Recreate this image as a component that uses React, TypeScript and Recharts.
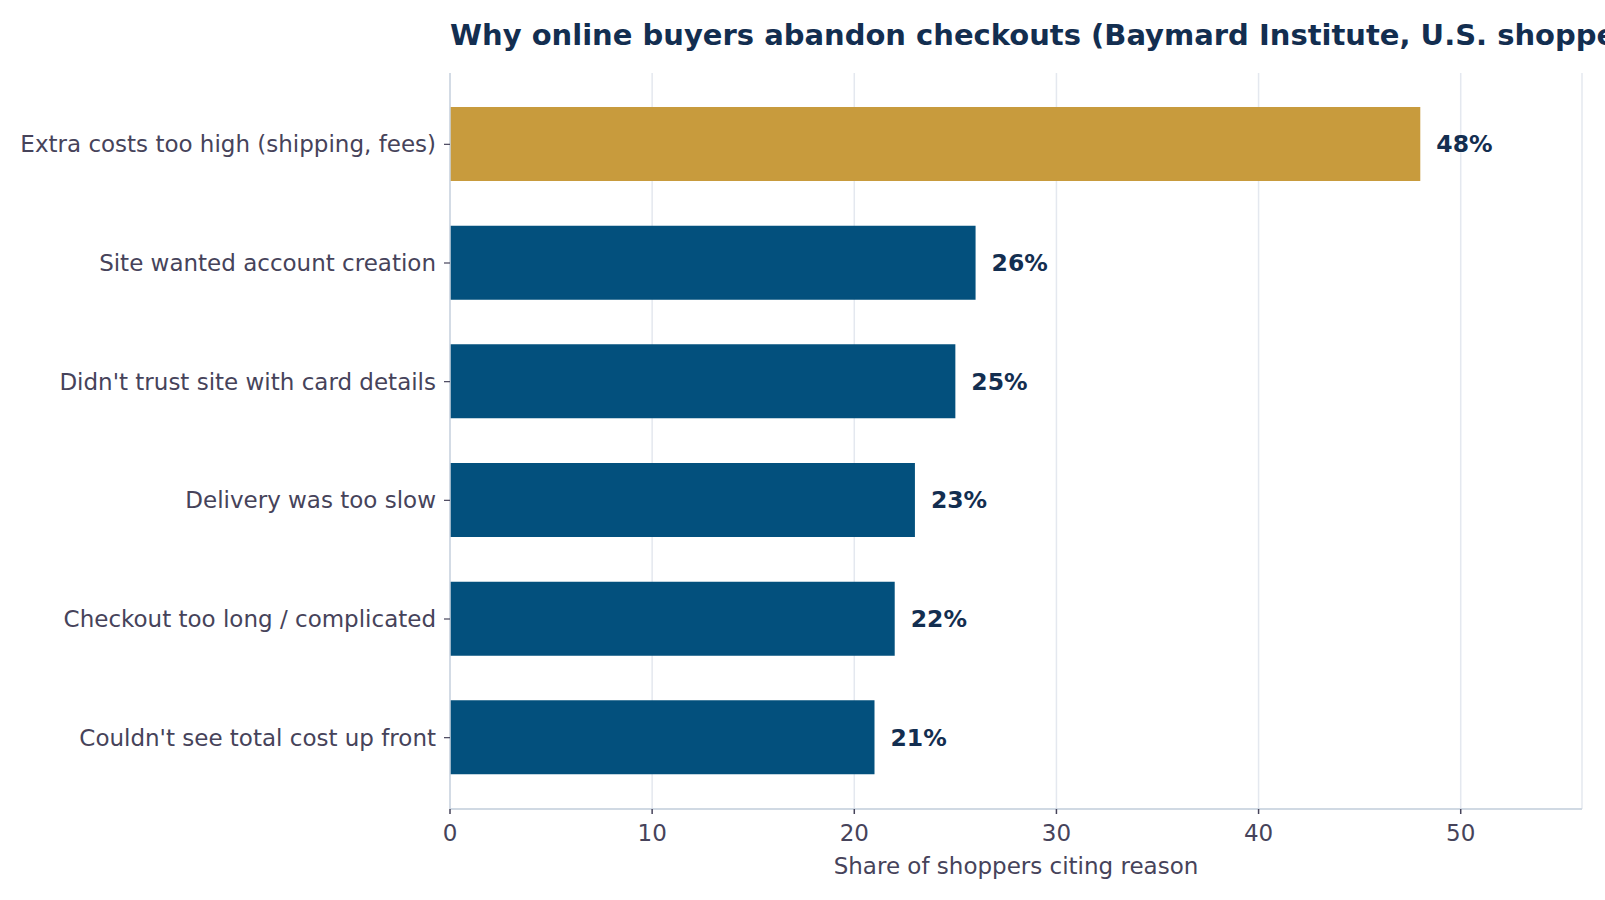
import { BarChart, Bar, XAxis, YAxis, CartesianGrid, Cell, LabelList } from 'recharts'

const reasons = [
  'Extra costs too high (shipping, fees)',
  'Site wanted account creation',
  "Didn't trust site with card details",
  'Delivery was too slow',
  'Checkout too long / complicated',
  "Couldn't see total cost up front",
]
const shares = [48, 26, 25, 23, 22, 21]
const xTicks = [0, 10, 20, 30, 40, 50]

const title = 'Why online buyers abandon checkouts (Baymard Institute, U.S. shoppers)'
const xLabel = 'Share of shoppers citing reason'

const FONT = '"DejaVu Sans", sans-serif'
const GOLD = '#C89B3D'
const NAVY = '#03507D'
const INK = '#132E50'
const GREY = '#46435A'

const data = reasons.map((reason, i) => ({ reason, share: shares[i] }))

export default function App() {
  return (
    <div
      style={{
        position: 'absolute',
        left: 0,
        top: 0,
        width: 1605,
        height: 900,
        overflow: 'hidden',
        background: '#fff',
        fontFamily: FONT,
      }}
    >
      {/* the title runs past the right edge in the original too */}
      <div
        style={{
          position: 'absolute',
          left: 450,
          top: 21,
          fontSize: 29,
          lineHeight: '29px',
          fontWeight: 'bold',
          color: INK,
          whiteSpace: 'nowrap',
        }}
      >
        {title}
      </div>
      <BarChart
        width={1605}
        height={900}
        data={data}
        layout="vertical"
        margin={{ top: 73, right: 23, bottom: 21, left: 0 }}
        style={{ fontFamily: FONT }}
      >
        <CartesianGrid horizontal={false} stroke="#E4E8EF" strokeWidth={1.5} />
        <XAxis
          type="number"
          domain={[0, 56]}
          ticks={xTicks}
          height={70}
          tick={{ fontSize: 23, fill: GREY }}
          tickSize={5}
          tickMargin={11}
          tickLine={{ stroke: GREY, strokeWidth: 1.5 }}
          axisLine={{ stroke: '#D0D9E3', strokeWidth: 2 }}
          label={{ value: xLabel, position: 'insideBottom', offset: 5, fontSize: 23, fill: GREY }}
        />
        <YAxis
          type="category"
          dataKey="reason"
          width={450}
          padding={{ top: 12, bottom: 12 }}
          tick={{ fontSize: 23, fill: GREY }}
          tickSize={6}
          tickMargin={8}
          tickLine={{ stroke: GREY, strokeWidth: 1.2 }}
          axisLine={{ stroke: '#CBD5E1', strokeWidth: 1.5 }}
          interval={0}
        />
        <Bar dataKey="share" barSize={74} isAnimationActive={false}>
          {data.map((_, i) => (
            <Cell key={i} fill={i === 0 ? GOLD : NAVY} />
          ))}
          <LabelList
            dataKey="share"
            position="right"
            offset={16}
            formatter={(v: any) => `${v}%`}
            style={{ fontSize: 23.5, fontWeight: 'bold', fill: INK }}
          />
        </Bar>
      </BarChart>
    </div>
  )
}
